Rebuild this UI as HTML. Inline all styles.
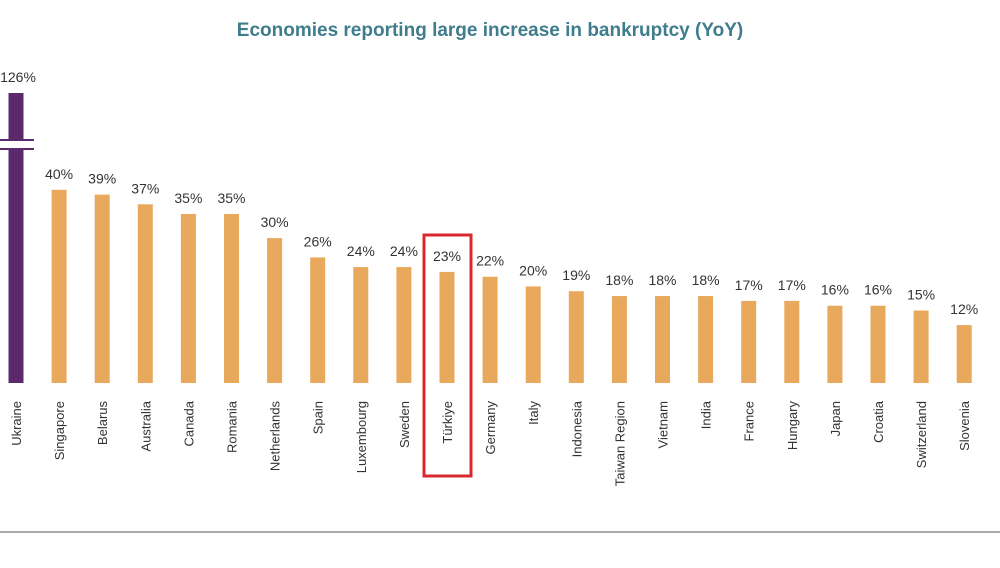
<!DOCTYPE html>
<html><head><meta charset="utf-8"><style>
body{margin:0;background:#fff;width:1000px;height:563px;overflow:hidden;font-family:"Liberation Sans",sans-serif}
</style></head><body>
<svg width="1000" height="563">
<text x="490" y="36" text-anchor="middle" font-size="19" font-weight="bold" fill="#3f7d8c">Economies reporting large increase in bankruptcy (YoY)</text>
<line x1="0" y1="532" x2="1000" y2="532" stroke="#aaa" stroke-width="2"/>
<g id="bars"></g>
<rect x="424" y="235" width="47" height="241" fill="none" stroke="#d9282f" stroke-width="3"/>
</svg>
<script>
const categories=["Ukraine","Singapore","Belarus","Australia","Canada","Romania","Netherlands","Spain","Luxembourg","Sweden","Türkiye","Germany","Italy","Indonesia","Taiwan Region","Vietnam","India","France","Hungary","Japan","Croatia","Switzerland","Slovenia"];
const values=[126,40,39,37,35,35,30,26,24,24,23,22,20,19,18,18,18,17,17,16,16,15,12];
const labels=["126%","40%","39%","37%","35%","35%","30%","26%","24%","24%","23%","22%","20%","19%","18%","18%","18%","17%","17%","16%","16%","15%","12%"];
const ns="http://www.w3.org/2000/svg",g=document.getElementById("bars");
const base=383,ppu=4.83;
function xPos(i){return 16+i*43.1;}
function yPos(v){return base-Math.min(v,60)*ppu;}
function mk(t,a){const e=document.createElementNS(ns,t);for(const k in a)e.setAttribute(k,a[k]);g.appendChild(e);return e;}
categories.forEach((c,i)=>{
  const x=xPos(i),v=values[i];
  let top=v>60?93:yPos(v);
  const r=mk("rect",{x:x-7.5,y:top,width:15,height:base-top,fill:i===0?"#5c2a6c":"#e8a95c"});
  
  
  if(v>60){
    const w=mk("rect",{x:x-16,y:140,width:32,height:9,fill:"#fff"});
    
    
    [140,149].forEach(yy=>{const l=mk("line",{x1:x-16,x2:x+18,y1:yy,y2:yy,stroke:"#5c2a6c","stroke-width":2});
      
      });
  }
  const t=mk("text",{x:x+(i===0?2:0),y:top-11,"text-anchor":"middle","font-size":"14",fill:"#333"});
  t.textContent=labels[i];
  
  
  const cl=mk("text",{x:0,y:0,"text-anchor":"end","font-size":"13",fill:"#333",transform:`translate(${x+5},401) rotate(-90)`});
  cl.textContent=c;
  
  
});
</script>
</body></html>
